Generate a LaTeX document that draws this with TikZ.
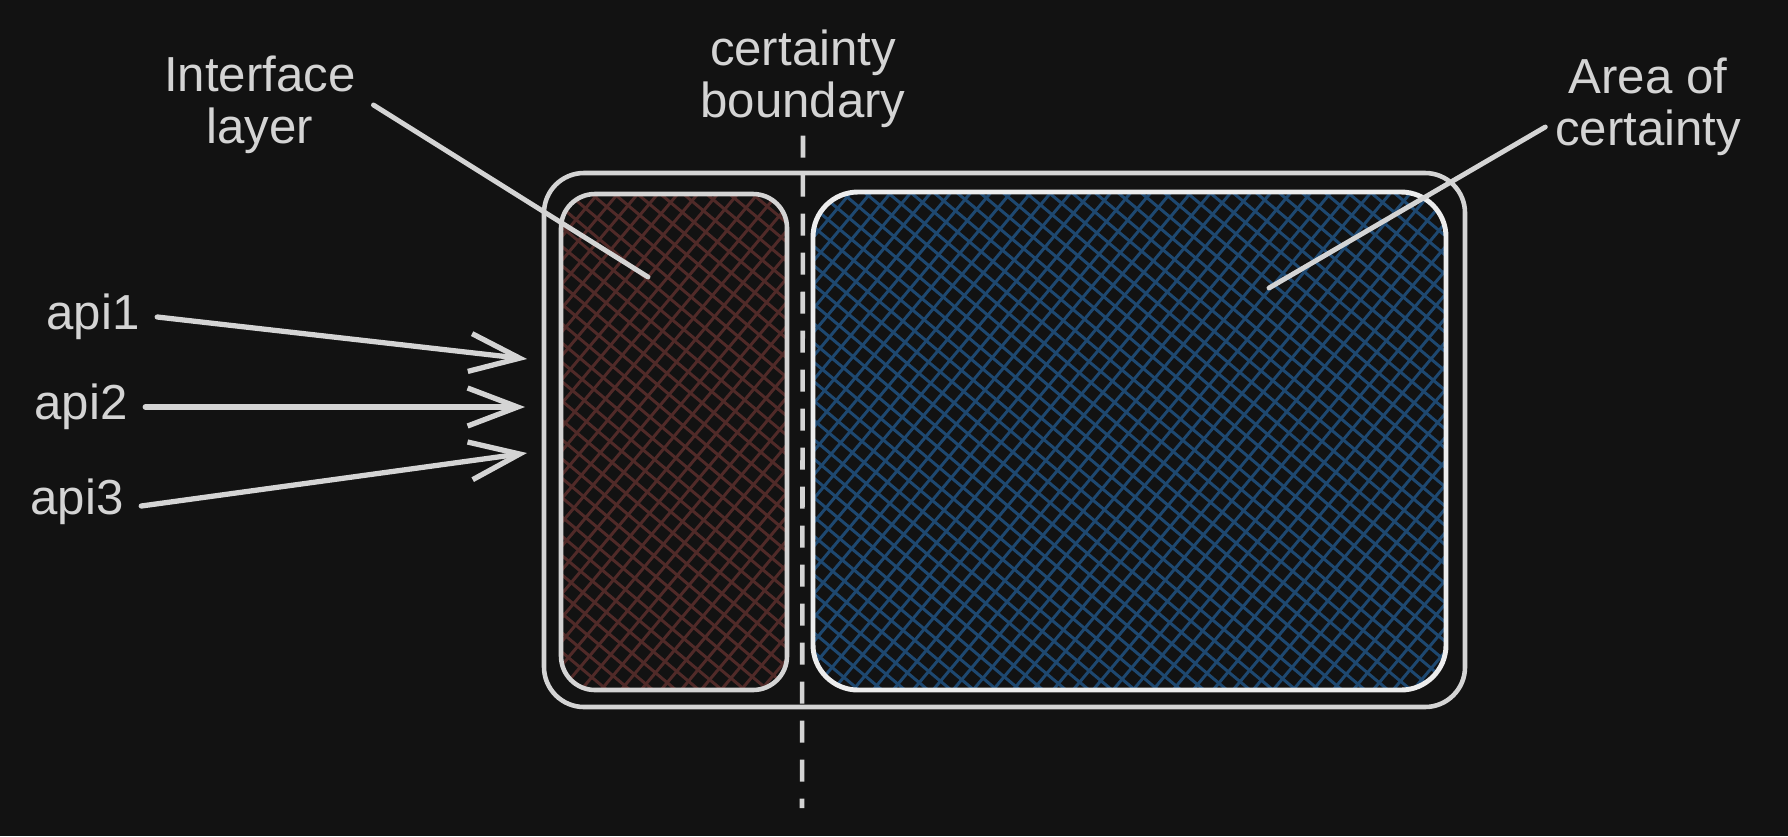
\documentclass[tikz,border=0pt]{standalone}
\usepackage{fontspec}
\setmainfont{Liberation Sans}
\usetikzlibrary{arrows.meta}
\definecolor{fondo}{HTML}{121212}
\definecolor{trazo}{HTML}{D4D4D4}
\definecolor{blanco}{HTML}{EDEDED}
\definecolor{rojo}{HTML}{502A28}
\definecolor{azul}{HTML}{1E4870}

\begin{document}
\begin{tikzpicture}[
    texto/.style={text=trazo, font=\fontsize{14}{14.8}\selectfont, align=center, inner sep=2pt},
    caja/.style={draw=trazo, line width=1.3pt, rounded corners=#1},
    rayado/.style={path picture={
        \foreach \k in {-22,...,33}
          \draw[#1, line width=0.85pt] ([xshift=\k*2mm]path picture bounding box.south west) -- ++(4.2,5);
        \foreach \k in {0,...,55}
          \draw[#1, line width=0.85pt] ([xshift=\k*2.3mm]path picture bounding box.south west) -- ++(-6,5.04);
        }},
    flecha/.style={draw=trazo, line width=1.5pt, line cap=round, -{Straight Barb[length=5mm,width=3.8mm]}},
    guia/.style={draw=trazo, line width=1.4pt, line cap=round},
  ]
  % Fondo
  \fill[fondo] (0,0) rectangle (17.88,8.36);
  \useasboundingbox (0,0) rectangle (17.88,8.36);

  % Cajas
  \node[caja=4mm, minimum width=9.21cm, minimum height=5.34cm] (marco) at (10.045,3.96) {};
  \node[caja=3.4mm, rayado=rojo, minimum width=2.26cm, minimum height=4.96cm] (interfaz) at (6.74,3.94) {};
  \node[caja=4.5mm, rayado=azul, draw=blanco, line width=1.4pt, minimum width=6.33cm, minimum height=4.98cm] (certeza) at (11.295,3.95) {};

  % Frontera de certeza
  \node[texto] (frontera) at (8.03,7.57) {certainty\\boundary};
  \coordinate (frontera-fin) at (8.02,0.28);
  \draw[draw=trazo, line width=1.3pt, dash pattern=on 0.22cm off 0.17cm] (frontera.south) -- (frontera-fin);

  % Etiquetas con guia
  \node[texto] (capa) at (2.6,7.31) {Interface\\layer};
  \coordinate (capa-fin) at (6.48,5.59);
  \draw[guia] ([xshift=1mm]capa.east) -- (capa-fin);

  \node[texto] (area) at (16.48,7.29) {Area of\\certainty};
  \coordinate (area-fin) at (12.69,5.48);
  \draw[guia] ([xshift=-0.2mm,yshift=-2mm]area.west) -- (area-fin);

  % Entradas
  \node[texto] (api1) at (0.93,5.19) {api1};
  \node[texto] (api2) at (0.81,4.29) {api2};
  \node[texto] (api3) at (0.77,3.34) {api3};
  \coordinate (in1) at (5.27,4.77);
  \coordinate (in2) at (5.25,4.29);
  \coordinate (in3) at (5.27,3.83);
  \draw[flecha] ([xshift=1mm]api1.east) -- (in1);
  \draw[flecha] ([xshift=1mm]api2.east) -- (in2);
  \draw[flecha] ([xshift=1mm,yshift=-0.4mm]api3.east) -- (in3);
\end{tikzpicture}
\end{document}
